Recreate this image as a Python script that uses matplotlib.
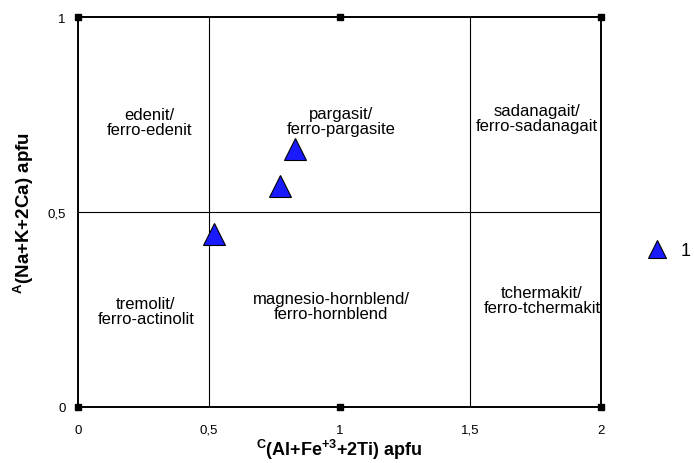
import matplotlib
matplotlib.use("Agg")
import matplotlib.pyplot as plt

plt.rcParams["font.family"] = ["Liberation Sans", "DejaVu Sans"]
plt.rcParams["mathtext.fontset"] = "custom"
plt.rcParams["mathtext.rm"] = "Liberation Sans"
plt.rcParams["mathtext.bf"] = "Liberation Sans:bold"

# sample points (series "1")
xs = [0.83, 0.772, 0.521]
ys = [0.661, 0.567, 0.444]

# field boundaries
xdiv = [0.5, 1.5]
ydiv = [0.5]
corner_x = [0, 1, 2, 0, 1, 2]
corner_y = [1, 1, 1, 0, 0, 0]

# field names
names = ["edenit/\nferro-edenit", "pargasit/\nferro-pargasite", "sadanagait/\nferro-sadanagait",
         "tremolit/\nferro-actinolit", "magnesio-hornblend/\nferro-hornblend", "tchermakit/\nferro-tchermakit"]
name_x = [0.272, 1.006, 1.755, 0.260, 0.968, 1.774]
name_y = [0.731, 0.733, 0.741, 0.246, 0.259, 0.274]

xticks = [0, 0.5, 1, 1.5, 2]
xticklabels = ["0", "0,5", "1", "1,5", "2"]
yticks = [0, 0.5, 1]
yticklabels = ["0", "0,5", "1"]

fig = plt.figure(figsize=(6.94, 4.64), dpi=100, facecolor="white")
ax = fig.add_axes([0.1124, 0.1207, 0.7536, 0.8405])
ax.set_xlim(0, 2)
ax.set_ylim(0, 1)

for v in xdiv:
    ax.axvline(v, color="black", lw=0.8, zorder=1)
for v in ydiv:
    ax.axhline(v, color="black", lw=0.8, zorder=1)

for s in ax.spines.values():
    s.set_linewidth(1.4)

ax.plot(corner_x, corner_y, "s", color="black", ms=5, clip_on=False, zorder=5)

for n, tx, ty in zip(names, name_x, name_y):
    ax.text(tx, ty, n, ha="center", va="center", fontsize=12, linespacing=1.05)

ax.plot(xs, ys, "^", ms=16, mfc="#1a1aff", mec="black", mew=0.8, ls="none",
        label="1", zorder=4)

ax.set_xticks(xticks)
ax.set_xticklabels(xticklabels)
ax.set_yticks(yticks)
ax.set_yticklabels(yticklabels)
ax.tick_params(length=0, labelsize=9.5)
ax.tick_params(axis="x", pad=12)
ax.tick_params(axis="y", pad=9)

ax.set_xlabel(r"$^{\mathbf{C}}$(Al+Fe$^{\mathbf{+3}}$+2Ti) apfu", fontsize=13,
              fontweight="bold", labelpad=1)
ax.set_ylabel(r"$^{\mathbf{A}}$(Na+K+2Ca) apfu", fontsize=13.5,
              fontweight="bold", labelpad=8)

leg = fig.legend(loc="center left", bbox_to_anchor=(0.921, 0.457), frameon=False,
                 fontsize=13, markerscale=0.85, handletextpad=0.28,
                 borderpad=0, borderaxespad=0)

fig.savefig("out.png", dpi=100, facecolor="white")
